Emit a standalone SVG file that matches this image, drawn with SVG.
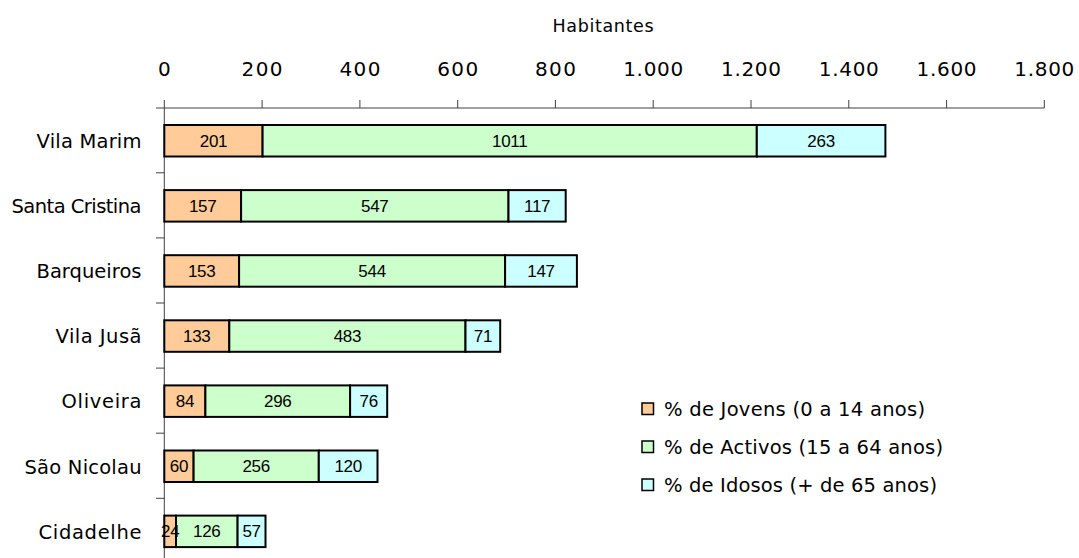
<svg xmlns="http://www.w3.org/2000/svg" width="1079" height="558" viewBox="0 0 1079 558">
<style>
.lbl{font-family:"DejaVu Sans","Liberation Sans",sans-serif;font-size:19.5px;fill:#000}
.tick{font-family:"DejaVu Sans","Liberation Sans",sans-serif;font-size:20px;fill:#000;text-anchor:middle}
.ttl{font-family:"DejaVu Sans","Liberation Sans",sans-serif;font-size:17.5px;fill:#000;text-anchor:middle}
.cat{font-family:"DejaVu Sans","Liberation Sans",sans-serif;font-size:19.5px;fill:#000;text-anchor:end}
.val{font-family:"Liberation Sans",Arial,sans-serif;font-size:17px;fill:#000;text-anchor:middle;letter-spacing:-0.3px}
.ax{stroke:#404040;stroke-width:1;fill:none}
.j{fill:#FFCC99;stroke:#000;stroke-width:2}
.a{fill:#CCFFCC;stroke:#000;stroke-width:2}
.i{fill:#CCFFFF;stroke:#000;stroke-width:2}
</style>
<rect width="1079" height="558" fill="#fff"/>
<g id="axis-title"><text class="ttl" x="603" y="31.5" textLength="101">Habitantes</text></g>
<g id="axes">
<line class="ax" x1="156" y1="108" x2="1044.3" y2="108"/>
<line class="ax" x1="164.3" y1="100" x2="164.3" y2="558"/>
<path class="ax" d="M262.1 100V108M359.9 100V108M457.7 100V108M555.4 100V108M653.2 100V108M751 100V108M848.8 100V108M946.6 100V108M1044.3 100V108"/>
<path class="ax" d="M156 172.8H164.3M156 237.9H164.3M156 303H164.3M156 368.1H164.3M156 433.2H164.3M156 498.3H164.3"/>
</g>
<g id="tick-labels">
<text class="tick" x="164.3" y="76">0</text>
<text class="tick" x="262.1" y="76" textLength="41">200</text>
<text class="tick" x="359.9" y="76" textLength="41">400</text>
<text class="tick" x="457.7" y="76" textLength="41">600</text>
<text class="tick" x="555.4" y="76" textLength="41">800</text>
<text class="tick" x="653.2" y="76" textLength="60">1.000</text>
<text class="tick" x="751" y="76" textLength="60">1.200</text>
<text class="tick" x="848.8" y="76" textLength="60">1.400</text>
<text class="tick" x="946.6" y="76" textLength="60">1.600</text>
<text class="tick" x="1044.3" y="76" textLength="60">1.800</text>
</g>
<g id="vila-marim">
<text class="cat" x="141.5" y="148" textLength="105">Vila Marim</text>
<rect class="j" x="164.3" y="125" width="98.3" height="31.5"/>
<rect class="a" x="262.6" y="125" width="494.2" height="31.5"/>
<rect class="i" x="756.8" y="125" width="128.6" height="31.5"/>
<text class="val" x="213.5" y="146.6">201</text>
<text class="val" x="509.7" y="146.6">1011</text>
<text class="val" x="821.1" y="146.6">263</text>
</g>
<g id="santa-cristina">
<text class="cat" x="141.5" y="213.1" textLength="130">Santa Cristina</text>
<rect class="j" x="164.3" y="190.1" width="76.8" height="31.5"/>
<rect class="a" x="241.1" y="190.1" width="267.4" height="31.5"/>
<rect class="i" x="508.5" y="190.1" width="57.2" height="31.5"/>
<text class="val" x="202.7" y="211.7">157</text>
<text class="val" x="374.8" y="211.7">547</text>
<text class="val" x="537.1" y="211.7">117</text>
</g>
<g id="barqueiros">
<text class="cat" x="141.5" y="278.2" textLength="105">Barqueiros</text>
<rect class="j" x="164.3" y="255.2" width="74.8" height="31.5"/>
<rect class="a" x="239.1" y="255.2" width="266" height="31.5"/>
<rect class="i" x="505.1" y="255.2" width="71.8" height="31.5"/>
<text class="val" x="201.7" y="276.8">153</text>
<text class="val" x="372.1" y="276.8">544</text>
<text class="val" x="541" y="276.8">147</text>
</g>
<g id="vila-jusa">
<text class="cat" x="141.5" y="343.3" textLength="86">Vila Jusã</text>
<rect class="j" x="164.3" y="320.3" width="65" height="31.5"/>
<rect class="a" x="229.3" y="320.3" width="236.2" height="31.5"/>
<rect class="i" x="465.5" y="320.3" width="34.7" height="31.5"/>
<text class="val" x="196.8" y="341.9">133</text>
<text class="val" x="347.4" y="341.9">483</text>
<text class="val" x="482.9" y="341.9">71</text>
</g>
<g id="oliveira">
<text class="cat" x="141.5" y="408.4" textLength="80">Oliveira</text>
<rect class="j" x="164.3" y="385.4" width="41.1" height="31.5"/>
<rect class="a" x="205.4" y="385.4" width="144.7" height="31.5"/>
<rect class="i" x="350.1" y="385.4" width="37.1" height="31.5"/>
<text class="val" x="184.9" y="407">84</text>
<text class="val" x="277.8" y="407">296</text>
<text class="val" x="368.7" y="407">76</text>
</g>
<g id="sao-nicolau">
<text class="cat" x="141.5" y="473.5" textLength="117">São Nicolau</text>
<rect class="j" x="164.3" y="450.5" width="29.3" height="31.5"/>
<rect class="a" x="193.6" y="450.5" width="125.2" height="31.5"/>
<rect class="i" x="318.8" y="450.5" width="58.7" height="31.5"/>
<text class="val" x="179" y="472.1">60</text>
<text class="val" x="256.2" y="472.1">256</text>
<text class="val" x="348.2" y="472.1">120</text>
</g>
<g id="cidadelhe">
<text class="cat" x="141.5" y="538.6" textLength="103">Cidadelhe</text>
<rect class="j" x="164.3" y="515.6" width="11.7" height="31.5"/>
<rect class="a" x="176" y="515.6" width="61.6" height="31.5"/>
<rect class="i" x="237.6" y="515.6" width="27.9" height="31.5"/>
<text class="val" x="170.2" y="537.2">24</text>
<text class="val" x="206.8" y="537.2">126</text>
<text class="val" x="251.6" y="537.2">57</text>
</g>
<g id="legend">
<rect class="j" x="642" y="403" width="11.5" height="11.5" style="stroke-width:1.5"/>
<text class="lbl" x="664" y="416" textLength="261">% de Jovens (0 a 14 anos)</text>
<rect class="a" x="642" y="441" width="11.5" height="11.5" style="stroke-width:1.5"/>
<text class="lbl" x="664" y="454" textLength="279">% de Activos (15 a 64 anos)</text>
<rect class="i" x="642" y="479" width="11.5" height="11.5" style="stroke-width:1.5"/>
<text class="lbl" x="664" y="492" textLength="273">% de Idosos (+ de 65 anos)</text>
</g>
</svg>
